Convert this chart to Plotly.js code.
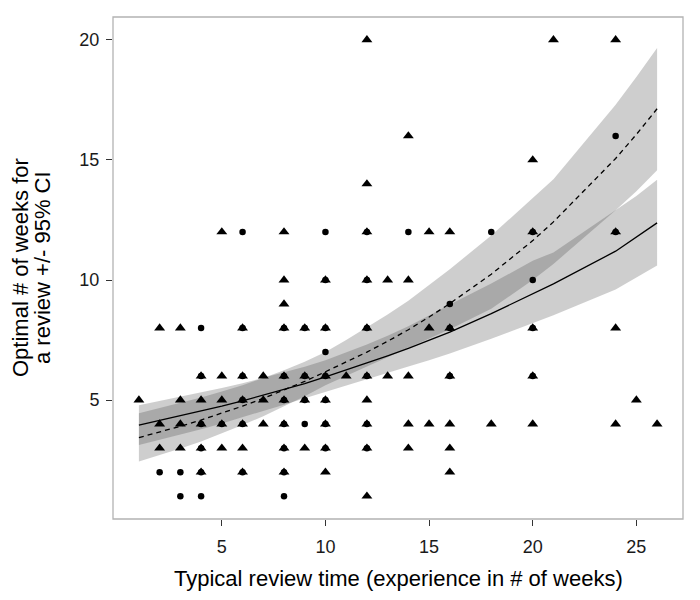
<!DOCTYPE html>
<html>
<head>
<meta charset="utf-8">
<script src="https://cdn.plot.ly/plotly-3.0.1.min.js"></script>
<style>
  html, body { margin: 0; padding: 0; background: #fff; }
  #chart { width: 700px; height: 600px; }
</style>
</head>
<body>
<div id="chart"></div>
<script>
// Observed points, triangles (group A)
const triX = [
  12, 21, 24,
  14,
  20,
  12,
  5, 8, 12, 15, 16, 20, 24,
  8, 10, 12, 13, 14,
  8,
  2, 3, 6, 8, 9, 10, 12, 15, 16, 20, 24,
  4, 5, 6, 7, 8, 9, 10, 11, 12, 13, 14, 16, 20,
  1, 3, 4, 5, 6, 7, 8, 9, 10, 12, 25,
  2, 3, 4, 5, 6, 7, 8, 10, 12, 14, 15, 16, 18, 20, 24, 26,
  2, 3, 4, 5, 6, 8, 9, 10, 12, 14, 16,
  4, 6, 8, 10, 16,
  12
]
const triY = [
  20, 20, 20,
  16,
  15,
  14,
  12, 12, 12, 12, 12, 12, 12,
  10, 10, 10, 10, 10,
  9,
  8, 8, 8, 8, 8, 8, 8, 8, 8, 8, 8,
  6, 6, 6, 6, 6, 6, 6, 6, 6, 6, 6, 6, 6,
  5, 5, 5, 5, 5, 5, 5, 5, 5, 5, 5,
  4, 4, 4, 4, 4, 4, 4, 4, 4, 4, 4, 4, 4, 4, 4, 4,
  3, 3, 3, 3, 3, 3, 3, 3, 3, 3, 3,
  2, 2, 2, 2, 2,
  1
]

// Observed points, circles (group B)
const dotX = [
  24,
  6, 10, 12, 14, 18, 20, 24,
  10, 12, 20,
  16,
  4, 6, 8, 9, 10, 12, 16, 20,
  10,
  4, 6, 8, 9, 10, 12, 16, 20,
  6, 8, 9, 10,
  4, 5, 6, 8, 9, 10, 12,
  4, 8, 10, 12,
  2, 3, 4, 6, 8,
  3, 4, 8
]
const dotY = [
  16,
  12, 12, 12, 12, 12, 12, 12,
  10, 10, 10,
  9,
  8, 8, 8, 8, 8, 8, 8, 8,
  7,
  6, 6, 6, 6, 6, 6, 6, 6,
  5, 5, 5, 5,
  4, 4, 4, 4, 4, 4, 4,
  3, 3, 3, 3,
  2, 2, 2, 2, 2,
  1, 1, 1
]

// Fitted curves and 95% CI, read at each x of the data
const fitX = [1, 2, 3, 4, 5, 6, 7, 8, 9, 10, 11, 12, 13, 14, 15, 16, 18, 20, 21, 24, 25, 26]

const solidFit = [3.96, 4.15, 4.34, 4.54, 4.75, 4.97, 5.20, 5.44, 5.69, 5.97, 6.25, 6.54, 6.84, 7.15, 7.48, 7.83, 8.6, 9.45, 9.84, 11.2, 11.8, 12.38]
const solidLow = [3.13, 3.34, 3.56, 3.79, 4.03, 4.28, 4.54, 4.81, 5.08, 5.35, 5.62, 5.88, 6.14, 6.40, 6.66, 6.94, 7.55, 8.2, 8.53, 9.6, 10.1, 10.6]
const solidHigh = [4.79, 4.96, 5.13, 5.31, 5.50, 5.70, 5.92, 6.14, 6.39, 6.66, 6.98, 7.32, 7.68, 8.08, 8.52, 8.98, 9.85, 10.8, 11.15, 12.9, 13.5, 14.17]

const dashFit = [3.44, 3.67, 3.91, 4.17, 4.45, 4.75, 5.07, 5.41, 5.78, 6.18, 6.58, 7.0, 7.45, 7.93, 8.46, 9.02, 10.24, 11.64, 12.42, 15.06, 16.06, 17.13]
const dashLow = [2.44, 2.70, 2.98, 3.28, 3.61, 3.96, 4.33, 4.73, 5.16, 5.62, 6.02, 6.40, 6.78, 7.16, 7.55, 7.95, 8.8, 10.0, 10.67, 12.9, 13.7, 14.57]
const dashHigh = [4.45, 4.66, 4.88, 5.11, 5.36, 5.62, 5.92, 6.24, 6.60, 7.0, 7.5, 8.02, 8.56, 9.14, 9.78, 10.45, 11.85, 13.4, 14.2, 17.3, 18.45, 19.66]

const xTicks = [5, 10, 15, 20, 25]
const yTicks = [5, 10, 15, 20]

const bandFill = 'rgba(60,60,60,0.25)'

// Ribbon: lower edge, then upper edge filled down to it
function band(lo, hi) {
  return [
    { x: fitX, y: lo, mode: 'lines', line: { width: 0 }, hoverinfo: 'skip', showlegend: false },
    { x: fitX, y: hi, mode: 'lines', line: { width: 0 }, fill: 'tonexty', fillcolor: bandFill, hoverinfo: 'skip', showlegend: false }
  ]
}

const traces = [
  ...band(dashLow, dashHigh),
  ...band(solidLow, solidHigh),
  {
    x: fitX, y: solidFit, mode: 'lines', showlegend: false,
    line: { color: '#000', width: 1.3 }
  },
  {
    x: fitX, y: dashFit, mode: 'lines', showlegend: false,
    line: { color: '#000', width: 1.3, dash: '5px,4px' }
  },
  {
    x: triX, y: triY, mode: 'markers', type: 'scatter', showlegend: false,
    marker: { symbol: 'triangle-up', size: 9.5, color: '#000' }
  },
  {
    x: dotX, y: dotY, mode: 'markers', type: 'scatter', showlegend: false,
    marker: { symbol: 'circle', size: 6.5, color: '#000' }
  }
]

const fontFamily = 'Liberation Sans, Arial, sans-serif'
const tickFont = { family: fontFamily, size: 18, color: '#1a1a1a' }
const titleFont = { family: fontFamily, size: 22, color: '#000' }

const layout = {
  width: 700,
  height: 600,
  margin: { l: 113, r: 17, t: 17, b: 81 },
  paper_bgcolor: '#fff',
  plot_bgcolor: '#fff',
  xaxis: {
    range: [-0.25, 27.25],
    tickvals: xTicks,
    ticks: 'outside',
    ticklen: 6,
    tickcolor: '#333',
    tickfont: tickFont,
    ticklabelstandoff: 5,
    showgrid: false,
    zeroline: false,
    showline: false
  },
  yaxis: {
    range: [0.05, 20.95],
    tickvals: yTicks,
    ticks: 'outside',
    ticklen: 6,
    tickcolor: '#333',
    tickfont: tickFont,
    ticklabelstandoff: 3,
    showgrid: false,
    zeroline: false,
    showline: false
  },
  annotations: [
    {
      text: 'Typical review time (experience in # of weeks)',
      xref: 'paper', yref: 'paper', x: 0.5, y: 0,
      xanchor: 'center', yanchor: 'middle', yshift: -59,
      showarrow: false, font: titleFont
    },
    {
      text: 'Optimal # of weeks for',
      xref: 'paper', yref: 'paper', x: 0, y: 0.5,
      xanchor: 'center', yanchor: 'middle', xshift: -93,
      textangle: -90, showarrow: false, font: titleFont
    },
    {
      text: 'a review +/- 95% CI',
      xref: 'paper', yref: 'paper', x: 0, y: 0.5,
      xanchor: 'center', yanchor: 'middle', xshift: -71,
      textangle: -90, showarrow: false, font: titleFont
    }
  ],
  shapes: [{
    type: 'rect', xref: 'paper', yref: 'paper', x0: 0, x1: 1, y0: 0, y1: 1,
    line: { color: '#b3b3b3', width: 1.3 }
  }]
}

Plotly.newPlot('chart', traces, layout, { displayModeBar: false, staticPlot: true })
</script>
</body>
</html>
